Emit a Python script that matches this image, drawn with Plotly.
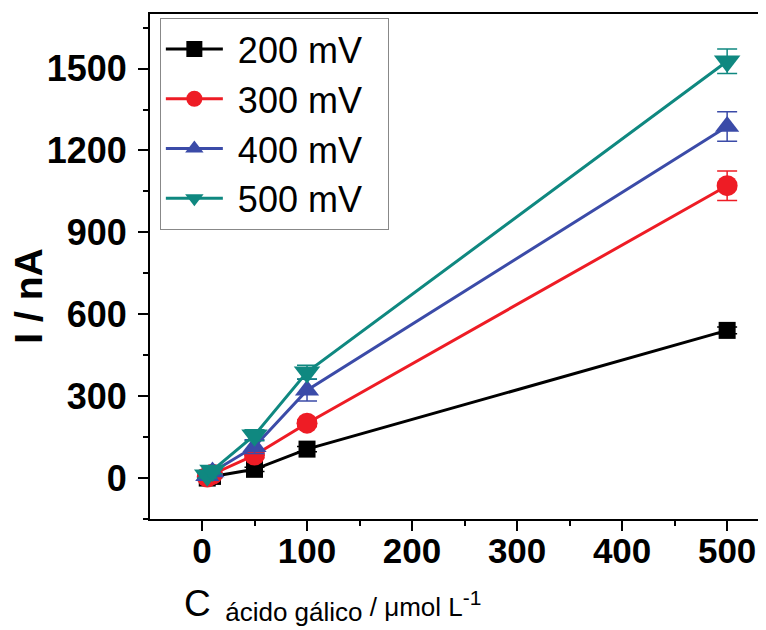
import plotly.graph_objects as go

conc = [5, 10, 50, 100, 500]
series_names = ["200 mV", "300 mV", "400 mV", "500 mV"]
I_200 = [0, 6, 32, 106, 541]
I_300 = [4, 14, 84, 201, 1071]
I_400 = [8, 22, 115, 322, 1288]
I_500 = [10, 28, 157, 388, 1527]
err_200 = [5, 5, 8, 10, 12]
err_300 = [5, 6, 10, 12, 54]
err_400 = [10, 12, 25, 40, 54]
err_500 = [10, 12, 20, 25, 45]

x_ticks = [0, 100, 200, 300, 400, 500]
y_ticks = [0, 300, 600, 900, 1200, 1500]
x_title = ('<span style="font-size:37px">C</span><sub><span style="font-size:26px">\u00a0\u00a0ácido gálico</span></sub>'
           ' / μmol L<sup><span style="font-size:21px">-1</span></sup>')
y_title = "<b>I / nA</b>"

values = [I_200, I_300, I_400, I_500]
errors = [err_200, err_300, err_400, err_500]
colors = ["#000000", "#EE1C25", "#3B4BA8", "#0F8880"]
symbols = ["square", "circle", "triangle-up", "triangle-down"]
sizes = [17, 21, 21, 23]
FONT = "Liberation Sans, Arial, sans-serif"

fig = go.Figure()
for name, v, e, c, s, sz in zip(series_names, values, errors, colors, symbols, sizes):
    fig.add_trace(go.Scatter(
        x=conc, y=v, name="\u00a0" + name + "\u00a0\u00a0", mode="lines+markers",
        line=dict(color=c, width=3),
        marker=dict(symbol=s, size=sz, color=c),
        error_y=dict(type="data", array=e, visible=True, color=c, thickness=1.5, width=10),
    ))

fig.update_layout(
    width=758, height=622,
    margin=dict(l=142, r=0, t=6, b=111),
    plot_bgcolor="white", paper_bgcolor="white",
    font=dict(family=FONT, color="black"),
    showlegend=True,
    legend=dict(
        x=0.016, y=0.992, xanchor="left", yanchor="top",
        font=dict(size=36, family=FONT),
        bordercolor="#888888", borderwidth=1, bgcolor="white",
        itemwidth=57, tracegroupgap=0,
    ),
    xaxis=dict(
        range=[-49.5, 537], tickvals=x_ticks, automargin=False,
        ticks="outside", ticklen=10, tickwidth=1.5, tickcolor="black",
        minor=dict(dtick=50, tick0=0, ticks="outside", ticklen=5, tickwidth=1.5, tickcolor="black"),
        showline=True, linecolor="black", linewidth=2, mirror=True,
        showgrid=False, zeroline=False, ticklabelstandoff=-10,
        tickfont=dict(size=35, family=FONT, weight="bold"),
    ),
    yaxis=dict(
        range=[-150, 1700], tickvals=y_ticks, automargin=False,
        ticks="outside", ticklen=10, tickwidth=1.5, tickcolor="black",
        minor=dict(dtick=150, tick0=0, ticks="outside", ticklen=5, tickwidth=1.5, tickcolor="black"),
        showline=True, linecolor="black", linewidth=2, mirror=False,
        showgrid=False, zeroline=False, ticklabelstandoff=4,
        tickfont=dict(size=36, family=FONT, weight="bold"),
    ),
    annotations=[
        dict(text=x_title, xref="paper", yref="paper", x=0.297, y=-0.17,
             xanchor="center", yanchor="middle", showarrow=False,
             font=dict(size=26, family=FONT)),
        dict(text=y_title, xref="paper", yref="paper", x=-0.197, y=0.4416,
             xanchor="center", yanchor="middle", textangle=-90, showarrow=False,
             font=dict(size=39, family=FONT)),
    ],
)

fig.write_html("out.html")
